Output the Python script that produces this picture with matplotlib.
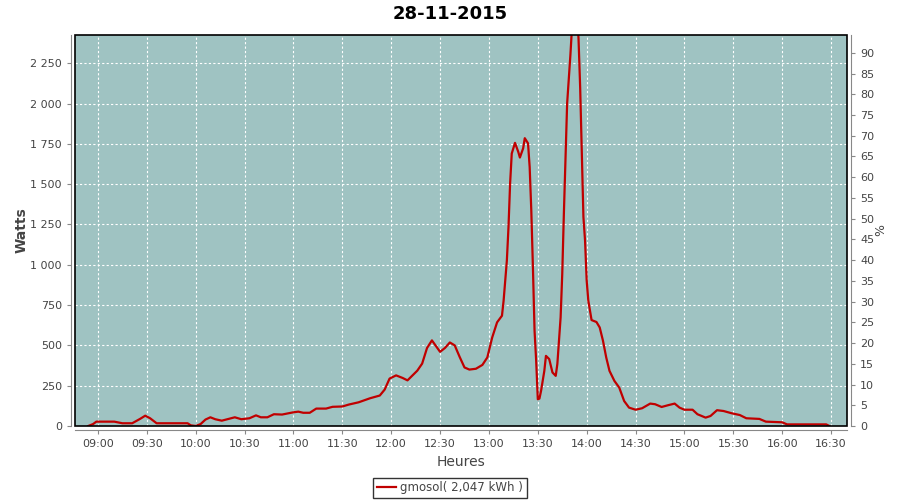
import matplotlib
matplotlib.use("Agg")
import matplotlib.pyplot as plt
import matplotlib.dates as mdates
from matplotlib.patches import Rectangle
from matplotlib.ticker import FuncFormatter, MultipleLocator
import pandas as pd

# --- data (time, watts)
times = ["08:54", "08:57", "08:59", "09:10", "09:15", "09:21", "09:26", "09:29", "09:32", "09:36",
         "09:55", "09:57", "10:00", "10:03", "10:06", "10:09", "10:12", "10:16", "10:24", "10:28",
         "10:33", "10:37", "10:40", "10:44", "10:48", "10:53", "11:00", "11:03", "11:06", "11:10",
         "11:14", "11:20", "11:24", "11:30", "11:34", "11:40", "11:47", "11:53", "11:56", "11:59",
         "12:03", "12:07", "12:10", "12:16", "12:19", "12:22", "12:25", "12:30", "12:33", "12:36",
         "12:39", "12:42", "12:45", "12:48", "12:52", "12:56", "12:59", "13:02", "13:05", "13:08",
         "13:09", "13:11", "13:12", "13:13", "13:14", "13:16", "13:18", "13:19", "13:21", "13:22",
         "13:24", "13:25", "13:26", "13:27", "13:28", "13:29", "13:30", "13:31", "13:32", "13:34",
         "13:35", "13:37", "13:39", "13:41", "13:42", "13:44", "13:45", "13:46", "13:47", "13:48",
         "13:50", "13:52", "13:54", "13:55", "13:56", "13:57", "13:58", "13:59", "14:00", "14:01",
         "14:03", "14:06", "14:08", "14:10", "14:12", "14:14", "14:17", "14:20", "14:23", "14:26",
         "14:30", "14:34", "14:39", "14:42", "14:46", "14:50", "14:54", "14:57", "15:00", "15:05",
         "15:08", "15:13", "15:16", "15:20", "15:24", "15:29", "15:34", "15:38", "15:46", "15:50",
         "16:00", "16:03", "16:27", "16:29"]
watts = [0, 12, 27, 27, 17, 17, 45, 64, 48, 17,
         17, 4, 0, 12, 40, 54, 42, 33, 54, 42,
         48, 66, 54, 54, 73, 71, 85, 89, 82, 82,
         108, 108, 119, 121, 133, 147, 172, 189, 226, 294,
         314, 298, 283, 343, 387, 484, 531, 460, 484, 518,
         500, 429, 363, 350, 355, 379, 425, 549, 643, 684,
         777, 1026, 1233, 1505, 1690, 1756, 1700, 1665, 1722, 1785,
         1753, 1606, 1337, 984, 591, 404, 166, 170, 218, 342,
         435, 415, 332, 311, 385, 674, 943, 1317, 1648, 2000,
         2300, 2650, 2600, 2400, 2100, 1710, 1296, 1150, 902, 777,
         657, 645, 611, 529, 425, 342, 280, 238, 155, 114,
         101, 110, 139, 135, 118, 129, 139, 114, 101, 101,
         73, 52, 62, 98, 93, 79, 68, 48, 44, 27,
         23, 10, 10, 0]
series_label = "gmosol( 2,047 kWh )"
title = "28-11-2015"

t = pd.to_datetime(["2015-11-28 " + s for s in times])

fig = plt.figure(figsize=(9, 5), dpi=100)
ax = fig.add_axes([75 / 900, 1 - 426 / 500, (847 - 75) / 900, (426 - 35) / 500])
ax.set_facecolor("#9fc3c2")

line, = ax.plot(t, watts, color="#c00000", lw=1.6, label=series_label, zorder=3)

ax.set_xlim(pd.Timestamp("2015-11-28 08:45:54"), pd.Timestamp("2015-11-28 16:39:48"))
ax.set_ylim(0, 2425)
ax.yaxis.set_major_locator(MultipleLocator(250))
ax.yaxis.set_major_formatter(FuncFormatter(lambda v, p: f"{int(v):,}".replace(",", " ")))
ax.xaxis.set_major_locator(mdates.MinuteLocator(byminute=[0, 30]))
ax.xaxis.set_major_formatter(mdates.DateFormatter("%H:%M"))
ax.grid(True, color="white", ls=(0, (2, 2)), lw=0.8)

ax2 = ax.twinx()
ax2.set_ylim(0, 94.3)
ax2.yaxis.set_major_locator(MultipleLocator(5))

for a in (ax, ax2):
    for s in a.spines.values():
        s.set_color("#888888")
        s.set_position(("outward", 3))
    a.tick_params(colors="#888888", labelcolor="#444444", labelsize=8, length=3, width=0.8)
ax.spines["top"].set_visible(False)
ax.spines["right"].set_visible(False)
ax2.spines["top"].set_visible(False)
ax2.spines["left"].set_visible(False)
ax2.spines["bottom"].set_visible(False)

ax2.add_patch(Rectangle((0, 0), 1, 1, transform=ax2.transAxes, fill=False,
                        edgecolor="black", lw=1.2, clip_on=False, zorder=5))

ax.set_ylabel("Watts", fontsize=10, color="#444444", fontweight="bold", labelpad=1)
ax.set_xlabel("Heures", fontsize=10, color="#444444")
ax2.set_ylabel("%", fontsize=9, color="#444444", labelpad=0)
fig.suptitle(title, fontsize=13, fontweight="bold", y=0.99)

fig.legend(handles=[line], loc="center", bbox_to_anchor=(0.5, 0.024), frameon=True,
           fancybox=False, edgecolor="black", fontsize=8.5, handlelength=1.6,
           borderpad=0.3, handletextpad=0.4, labelcolor="#444444")

fig.savefig("out.png", dpi=100)
